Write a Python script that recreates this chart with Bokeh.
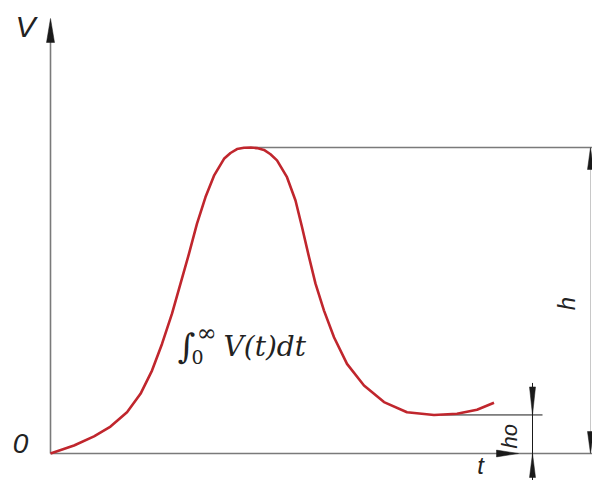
import math
from bokeh.plotting import figure
from bokeh.models import Range1d
from bokeh.core.properties import value
from bokeh.embed import file_html
from bokeh.resources import INLINE

# ---- data ----
t_vals = [0.0, 0.47, 0.87, 1.20, 1.53, 1.80, 2.03, 2.23, 2.43, 2.60, 2.77, 2.93,
          3.10, 3.27, 3.47, 3.60, 3.73, 3.87, 4.00, 4.13, 4.27, 4.40, 4.53, 4.73,
          4.90, 5.03, 5.17, 5.30, 5.47, 5.67, 5.93, 6.27, 6.67, 7.13, 7.67, 8.13,
          8.53, 8.87]
v_vals = [0.0, 0.26, 0.56, 0.88, 1.35, 1.95, 2.71, 3.58, 4.57, 5.55, 6.53, 7.51,
          8.38, 9.08, 9.63, 9.82, 9.95, 9.99, 10.0, 9.98, 9.92, 9.78, 9.58, 9.03,
          8.27, 7.40, 6.42, 5.55, 4.67, 3.80, 2.93, 2.22, 1.68, 1.35, 1.26, 1.30,
          1.43, 1.66]
axis_labels = ["V", "0", "t"]
dim_labels = ["h", "ho"]
integral_parts = ["∫", "0", "∞", "V(t)dt"]

# ---- layout ----
W, H = 592, 480
SX, SY = 50.0, 30.6          # px per unit
OX, OY = 50, 453             # origin position in px from top-left
X0, X1 = -OX / SX, (W - OX) / SX
Y0, Y1 = -(H - OY) / SY, OY / SY

def dx(px):
    return px / SX

def dy(px):
    return px / SY

p = figure(width=W, height=H, output_backend="svg", toolbar_location=None,
           x_range=Range1d(X0, X1), y_range=Range1d(Y0, Y1),
           min_border=0, outline_line_color=None)
p.axis.visible = False
p.grid.visible = False
p.background_fill_color = "white"
p.border_fill_color = "white"

GRAY = "#7a7a7a"
INK = "#1a1a1a"

v_peak = max(v_vals)
t_peak = t_vals[v_vals.index(v_peak)]
tail = [v for t, v in zip(t_vals, v_vals) if t > t_peak]
v_ho = min(tail)

# axes
y_axis_tip = Y1 - dy(18)
x_axis_tip = 9.36
p.line([0, 0], [0, y_axis_tip - dy(20)], line_color=GRAY, line_width=1.6)
p.line([0, X1 + 1], [0, 0], line_color=GRAY, line_width=1.6)

def arrow(tx, ty, direction, length, half):
    if direction == "up":
        xs = [tx, tx - dx(half), tx + dx(half)]
        ys = [ty, ty - dy(length), ty - dy(length)]
    elif direction == "down":
        xs = [tx, tx - dx(half), tx + dx(half)]
        ys = [ty, ty + dy(length), ty + dy(length)]
    else:
        xs = [tx, tx - dx(length), tx - dx(length)]
        ys = [ty, ty - dy(half), ty + dy(half)]
    return xs, ys

arrows = [
    arrow(0, y_axis_tip, "up", 24, 4),
    arrow(x_axis_tip, 0, "right", 22, 3.4),
]

# peak reference line
p.line([t_peak, X1 + 1], [v_peak, v_peak], line_color=GRAY, line_width=1.3)

# ho dimension
t_ho_dim = 9.64
p.line([7.8, 9.84], [v_ho, v_ho], line_color=INK, line_width=1.0)
p.line([t_ho_dim, t_ho_dim], [v_ho + dy(32), Y0 - 1], line_color=INK, line_width=1.0)
arrows.append(arrow(t_ho_dim, v_ho, "down", 28, 3))
arrows.append(arrow(t_ho_dim, 0, "up", 24, 3))

# h dimension (at right edge)
t_h_dim = X1 - dx(2)
p.line([t_h_dim, t_h_dim], [0, v_peak], line_color="#c8c8c8", line_width=1.0)
arrows.append(arrow(t_h_dim, v_peak, "up", 22, 3))
arrows.append(arrow(t_h_dim, 0, "down", 22, 3))

p.patches([a[0] for a in arrows], [a[1] for a in arrows],
          fill_color=INK, line_color=INK, line_width=0.5)

# curve
p.line(t_vals, v_vals, line_color="#c0262d", line_width=2.6, line_join="round")

# axis labels
lab_font = value("Liberation Sans")
p.text(x=[-0.5], y=[13.95], text=[axis_labels[0]], text_font=lab_font,
       text_font_style="italic", text_font_size="30px", text_color="#222222",
       text_align="center", text_baseline="middle")
p.text(x=[-0.6], y=[0.33], text=[axis_labels[1]], text_font=lab_font,
       text_font_style="italic", text_font_size="28px", text_color="#222222",
       text_align="center", text_baseline="middle")
p.text(x=[8.6], y=[-0.40], text=[axis_labels[2]], text_font=lab_font,
       text_font_style="italic", text_font_size="24px", text_color="#222222",
       text_align="center", text_baseline="middle")

# dimension labels
p.text(x=[10.32], y=[4.90], text=[dim_labels[0]], text_font=lab_font,
       text_font_style="italic", text_font_size="24px", text_color="#222222",
       text_align="center", text_baseline="middle", angle=math.pi / 2)
p.text(x=[9.18], y=[0.56], text=[dim_labels[1]], text_font=lab_font,
       text_font_style="italic", text_font_size="22px", text_color="#222222",
       text_align="center", text_baseline="middle", angle=math.pi / 2)

# integral annotation
mfont = value("DejaVu Serif")
p.text(x=[2.72], y=[3.50], text=[integral_parts[0]], text_font=mfont,
       text_font_style="italic", text_font_size="34px", text_color="#222222",
       text_align="center", text_baseline="middle")
p.text(x=[2.94], y=[3.14], text=[integral_parts[1]], text_font=mfont,
       text_font_size="19px", text_color="#222222",
       text_align="center", text_baseline="middle")
p.text(x=[3.12], y=[3.95], text=[integral_parts[2]], text_font=mfont,
       text_font_size="24px", text_color="#222222",
       text_align="center", text_baseline="middle")
p.text(x=[3.46], y=[3.50], text=[integral_parts[3]], text_font=mfont,
       text_font_style="italic", text_font_size="28px", text_color="#222222",
       text_align="left", text_baseline="middle")

open("out.html", "w").write(file_html(p, INLINE))
